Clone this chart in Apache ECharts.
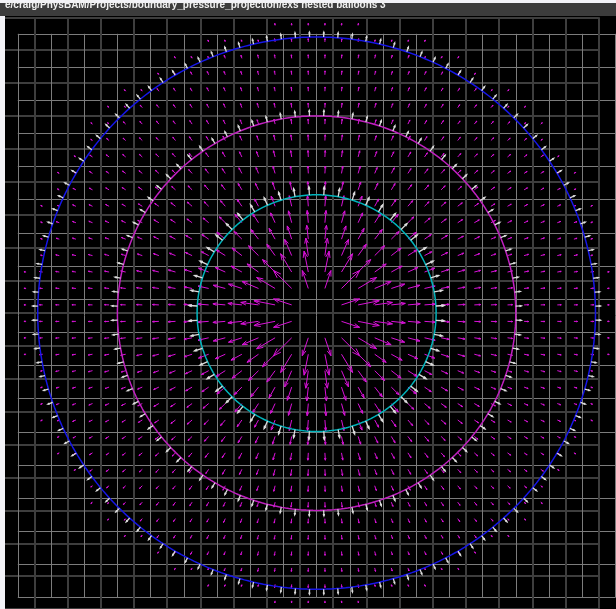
<!DOCTYPE html>
<html><head><meta charset="utf-8">
<script src="https://cdn.jsdelivr.net/npm/echarts@6/dist/echarts.min.js"></script>
<style>html,body{margin:0;padding:0;background:#f3f3f8;}#c{width:616px;height:609px;}</style>
</head><body><div id="c"></div>
<script>
// ---- data (units: grid cells, origin at the centre of the balloons) ----
const titleText = "e/craig/PhysBAM/Projects/boundary_pressure_projection/exs nested balloons 3";
const circleNames = ["inner", "middle", "outer"];
const circleRadius = [7.2, 12, 16.8];
const circleColor = ["#00b4bc", "#c020c0", "#1616e8"];
const circleMarkerCount = [52, 88, 124];
const circleMarkerLength = [0.5, 0.34, 0.3];
// radial field: magnitude read per radius band (band upper bounds)
const fieldRadiusBand = [1, 1.8, 2.4, 3, 4, 5, 6, 7.2, 8, 9, 10, 11, 12, 13, 14, 15, 16, 16.8, 17.75];
const fieldMagnitude  = [0, 1.15, 1.55, 1.3, 1.08, 0.85, 0.75, 0.66, 0.5, 0.45, 0.39, 0.35, 0.31, 0.28, 0.26, 0.24, 0.22, 0.2, 0.13];
const cellRangeX = [-19, 18];
const cellRangeY = [-18, 18];

// ---- build series data ----
const field = [];
for (let i = cellRangeX[0]; i < cellRangeX[1]; i++) {
  for (let j = cellRangeY[0]; j < cellRangeY[1]; j++) {
    const x = i + 0.5, y = j + 0.5, r = Math.hypot(x, y);
    const b = fieldRadiusBand.findIndex(e => r < e);
    if (b < 0) continue;
    const m = fieldMagnitude[b];
    if (m <= 0) continue;
    field.push([x, y, m * x / r, m * y / r]);
  }
}
const circleData = circleRadius.map(r => {
  const pts = [];
  for (let k = 0; k <= 360; k++) {
    const t = k * Math.PI / 180;
    pts.push([r * Math.cos(t), r * Math.sin(t)]);
  }
  return pts;
});
const markerData = circleRadius.map((r, c) => {
  const n = circleMarkerCount[c], L = circleMarkerLength[c], out = [];
  for (let i = 0; i < n; i++) {
    const t = (i + 0.5) * 2 * Math.PI / n;
    const nx = Math.sin(t), ny = Math.cos(t);
    out.push([r * nx, r * ny, L * nx, L * ny]);
  }
  return out;
});

function arrowRenderer(color, width, headFrac, minHead) {
  return function (params, api) {
    const x = api.value(0), y = api.value(1), vx = api.value(2), vy = api.value(3);
    const p0 = api.coord([x, y]), p1 = api.coord([x + vx, y + vy]);
    const dx = p1[0] - p0[0], dy = p1[1] - p0[1];
    const L = Math.hypot(dx, dy);
    if (L < 0.01) return null;
    const ux = -dx / L, uy = -dy / L;
    const hl = Math.max(minHead, L * headFrac), a = 0.33;
    const c = Math.cos(a), s = Math.sin(a);
    const h1 = [p1[0] + hl * (ux * c - uy * s), p1[1] + hl * (ux * s + uy * c)];
    const h2 = [p1[0] + hl * (ux * c + uy * s), p1[1] + hl * (-ux * s + uy * c)];
    return {
      type: 'group',
      children: [
        { type: 'line', shape: { x1: p0[0], y1: p0[1], x2: p1[0], y2: p1[1] }, style: { stroke: color, lineWidth: width } },
        { type: 'polyline', shape: { points: [h1, p1, h2] }, style: { stroke: color, fill: null, lineWidth: width } }
      ]
    };
  };
}

// ---- layout (pixels) ----
const cx = 316.6, cy = 315.7, sx = 16.6, sy = 16.58;
const lineAxis = (gridIndex, color, width) => ({
  gridIndex, type: 'value', min: 0, max: 36, interval: 2, z: 1,
  axisLine: { show: false }, axisTick: { show: false }, axisLabel: { show: false },
  splitLine: { show: true, lineStyle: { color, width } }
});

const series = [];
series.push({
  type: 'custom', name: 'field', xAxisIndex: 0, yAxisIndex: 0, z: 3,
  data: field, encode: { x: 0, y: 1 }, silent: true,
  renderItem: arrowRenderer('#d812d8', 1, 0.32, 1.4)
});
circleRadius.forEach((r, c) => {
  series.push({
    type: 'line', name: circleNames[c], xAxisIndex: 0, yAxisIndex: 0, z: 4,
    data: circleData[c], showSymbol: false, symbol: 'none', smooth: false, silent: true,
    lineStyle: { color: circleColor[c], width: 1.5 }
  });
  series.push({
    type: 'custom', name: circleNames[c] + ' normals', xAxisIndex: 0, yAxisIndex: 0, z: 5,
    data: markerData[c], encode: { x: 0, y: 1 }, silent: true,
    renderItem: arrowRenderer('#dcdcdc', 1.3, 0.35, 1.5)
  });
});

const chart = echarts.init(document.getElementById('c'), null, { renderer: 'canvas' });
chart.setOption({
  animation: false,
  backgroundColor: '#000000',
  grid: [
    { left: cx - 19 * sx, top: cy - 18 * sy, width: 37 * sx, height: 36 * sy },
    { left: cx - 18 * sx, top: cy - 17 * sy, width: 36 * sx, height: 34 * sy },
    { left: cx - 19 * sx, top: cy - 18 * sy, width: 36 * sx, height: 36 * sy }
  ],
  xAxis: [
    { gridIndex: 0, type: 'value', min: cellRangeX[0], max: cellRangeX[1], show: false },
    lineAxis(1, '#7c7c7c', 1),
    lineAxis(2, '#3e3e3e', 2)
  ],
  yAxis: [
    { gridIndex: 0, type: 'value', min: cellRangeY[0], max: cellRangeY[1], show: false },
    Object.assign(lineAxis(1, '#7c7c7c', 1), { max: 34 }),
    lineAxis(2, '#3e3e3e', 2)
  ],
  series,
  graphic: [
    { type: 'rect', z: 100, shape: { x: 0, y: 0, width: 5, height: 609 }, style: { fill: '#f3f3f8' } },
    { type: 'rect', z: 100, shape: { x: 0, y: 0, width: 616, height: 16 }, style: { fill: '#3c3c3c' } },
    { type: 'rect', z: 100, shape: { x: 0, y: 0, width: 616, height: 3 }, style: { fill: '#f3f3f8' } },
    { type: 'text', z: 101, x: 5, y: 0, style: { text: titleText, fill: '#f0f0f0', font: 'bold 10px "Liberation Sans"', verticalAlign: 'top' } }
  ]
});
</script></body></html>
